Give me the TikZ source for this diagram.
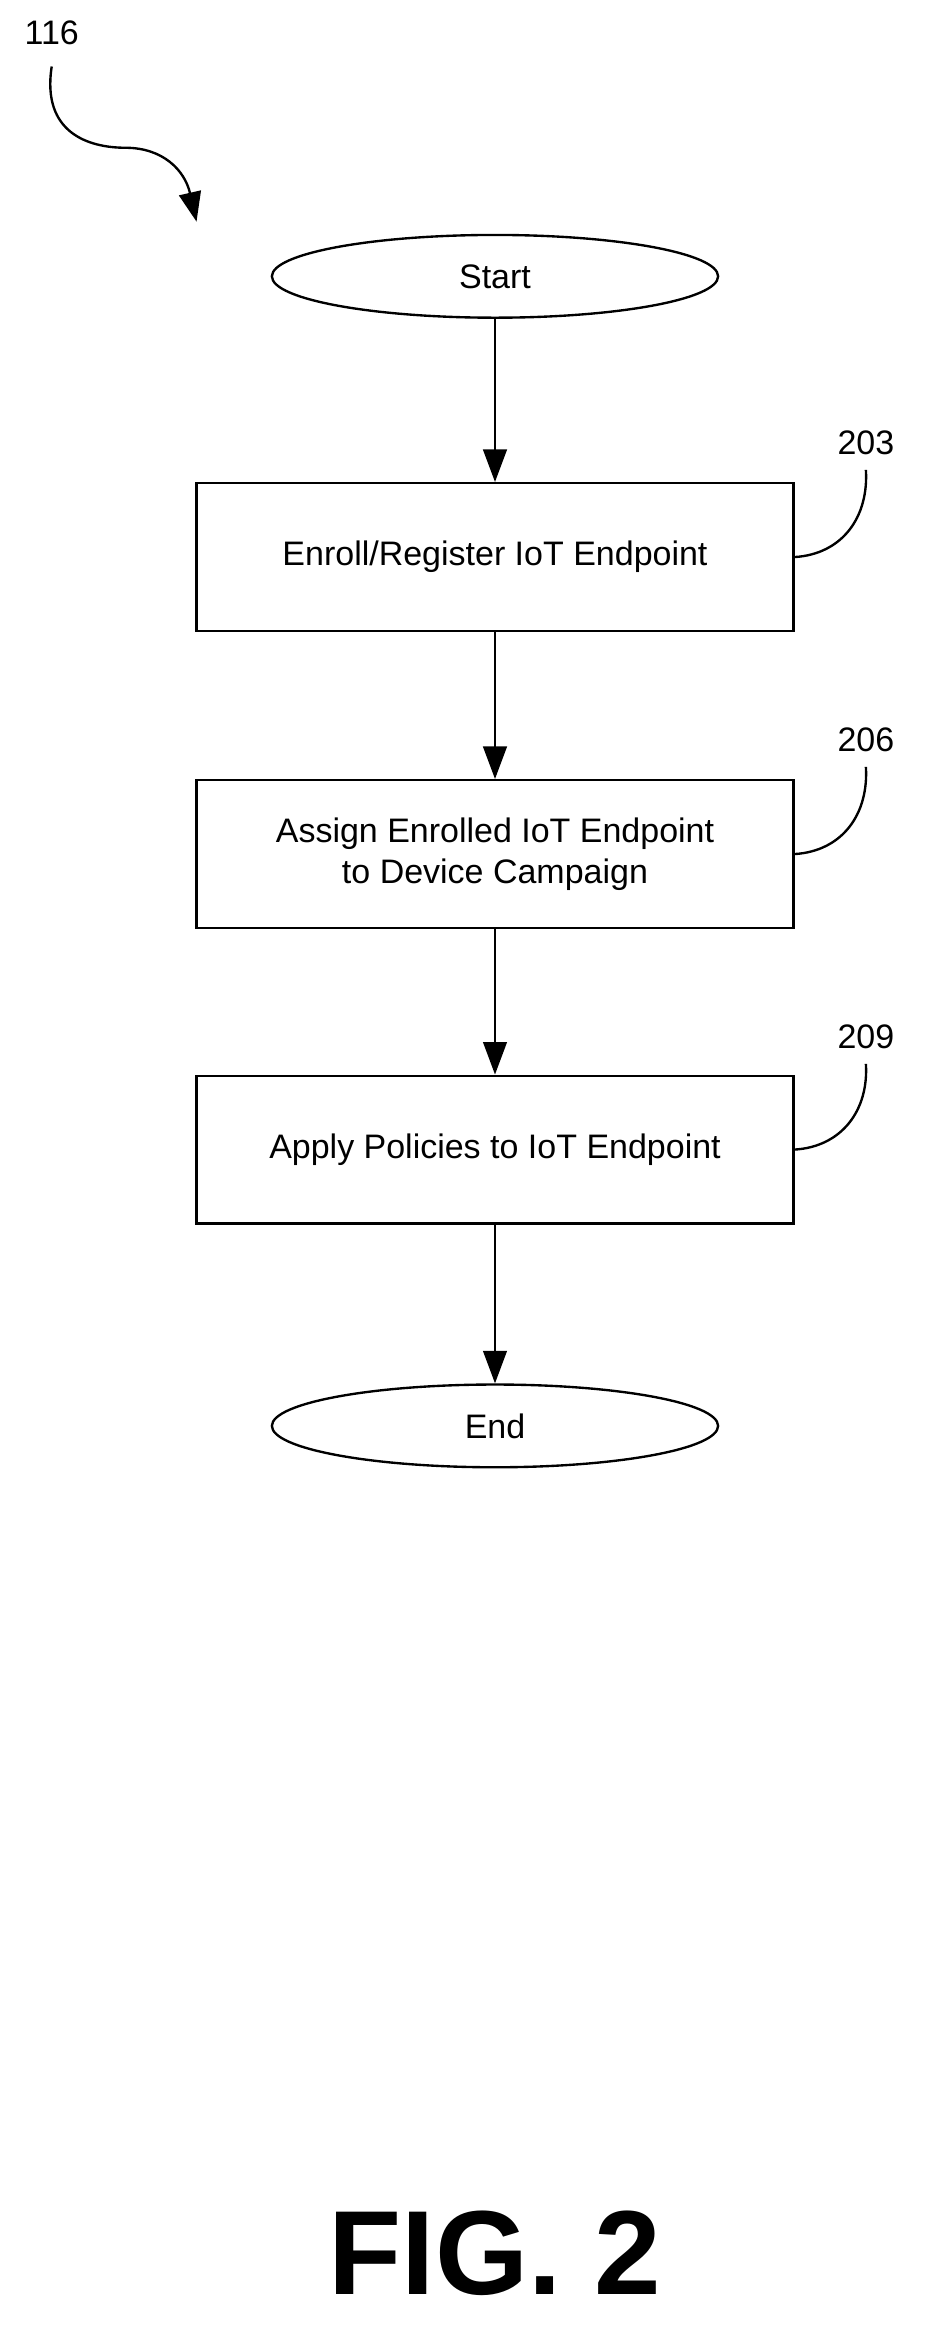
\documentclass[tikz,border=0pt]{standalone}
\usepackage{fontspec}
\setmainfont{Liberation Sans}
\usetikzlibrary{shapes.geometric,arrows.meta}
\begin{document}
\begin{tikzpicture}[x=1pt,y=-1pt,
  box/.style={draw,line width=1.6pt,minimum width=404pt,minimum height=100pt,align=center,font=\fontsize{23}{28}\selectfont},
  term/.style={draw,ellipse,line width=1.6pt,minimum width=302pt,minimum height=56pt,font=\fontsize{23}{28}\selectfont},
  arr/.style={line width=1.6pt,-{Triangle[length=22pt,width=16pt]}},
  lbl/.style={font=\fontsize{23}{28}\selectfont},
  lead/.style={line width=1.6pt}]
\useasboundingbox (0,0) rectangle (628,1585);
\node[term] (s) at (335,187) {Start};
\node[box] (b1) at (335,377) {Enroll/Register IoT Endpoint};
\node[box] (b2) at (335,578) {Assign Enrolled IoT Endpoint\\to Device Campaign};
\node[box] (b3) at (335,778) {Apply Policies to IoT Endpoint};
\node[term] (e) at (335,965) {End};
\draw[arr] (s) -- (b1);
\draw[arr] (b1) -- (b2);
\draw[arr] (b2) -- (b3);
\draw[arr] (b3) -- (e);
\node[lbl] (l1) at (586,300) {203};
\node[lbl] (l2) at (586,501) {206};
\node[lbl] (l3) at (586,702) {209};
\draw[lead] (b1.east) .. controls (570,375) and (588,350) .. (586,318);
\draw[lead] (b2.east) .. controls (570,576) and (588,551) .. (586,519);
\draw[lead] (b3.east) .. controls (570,776) and (588,751) .. (586,720);
\node[lbl] (t) at (35,22) {116};
\coordinate (tip) at (133,150);
\draw[lead,-{Triangle[length=20pt,width=15pt]}] (35,45) .. controls (28,90) and (60,100) .. (85,100) .. controls (110,100) and (125,115) .. (tip);
\node[font=\bfseries\fontsize{81}{90}\selectfont] (fig) at (335,1525) {FIG. 2};
\end{tikzpicture}
\end{document}
